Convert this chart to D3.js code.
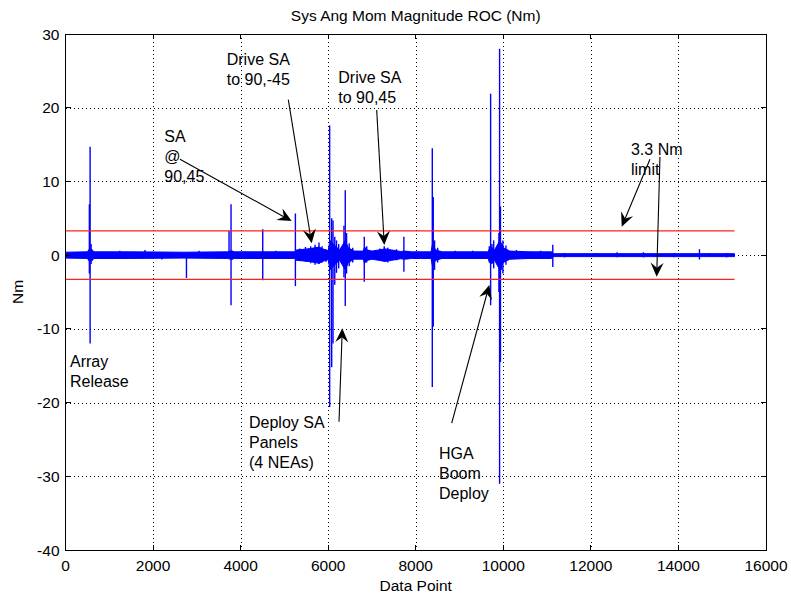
<!DOCTYPE html>
<html>
<head>
<meta charset="utf-8">
<script src="https://cdn.jsdelivr.net/npm/d3@7"></script>
<style>
  body { margin: 0; background: #fff; }
  text { font-family: "Liberation Sans", Arial, sans-serif; fill: #000; }
</style>
</head>
<body>
<div id="chart"></div>
<script>
    // tick values
    var xTicks = [0, 2000, 4000, 6000, 8000, 10000, 12000, 14000, 16000];
    var yTicks = [-40, -30, -20, -10, 0, 10, 20, 30];
    var limitValues = [3.3, -3.3];
    var dataEnd = 15280;

    // spikes: [data point, max, min]
    var spikes = [
        [545, 6.9, -2.5], [562, 14.7, -12.0], [585, 1.5, -1.2],
        [2763, 0.3, -3.1],
        [3735, 3.3, -0.3], [3781, 6.9, -6.8],
        [4505, 3.5, -3.4],
        [5251, 5.65, -4.2],
        [6034, 17.6, -20.6], [6080, 5.0, -15.2], [6110, 4.7, -12.0], [6150, 2.5, -4.0],
        [6360, 4.0, -3.0], [6390, 8.8, -6.9], [6420, 3.0, -2.5],
        [6824, 2.5, -3.6],
        [7729, 2.5, -2.25],
        [8378, 14.5, -17.9], [8400, 7.9, -9.7],
        [9710, 21.9, -6.8], [9740, 1.5, -1.2],
        [9900, 3.0, -5.0], [9915, 28.0, -31.0], [9935, 6.6, -14.5], [9960, 1.5, -2.0],
        [11130, 1.4, -1.6],
        [14480, 0.8, -0.6]
    ];

    // small blips along the baseline and inside the bursts
    var blips = [
        [1240, 0.6, -0.4], [1815, 0.7, -0.3], [2200, 0.4, -0.6], [3050, 0.6, -0.3],
        [4100, 0.5, -0.5], [4800, 0.6, -0.4], [7450, 0.7, -0.5], [8900, 0.6, -0.4],
        [9300, 0.6, -0.5], [10300, 0.7, -0.3], [10600, 0.5, -0.5], [10850, 0.6, -0.4],
        [11400, 0.3, -0.3], [12100, 0.3, -0.2], [12600, 0.4, -0.3], [13200, 0.4, -0.3],
        [13900, 0.3, -0.3], [14700, 0.3, -0.2], [15100, 0.3, -0.3],
        [5350, 0.9, -0.8], [5480, 1.1, -0.9], [5600, 1.2, -1.1], [5700, 1.4, -1.3],
        [5790, 1.7, -1.2], [5860, 1.2, -1.0], [5950, 0.8, -0.9],
        [6190, 2.0, -2.4], [6240, 1.5, -1.8], [6480, 1.6, -1.5], [6560, 1.0, -1.0],
        [6880, 1.2, -1.0], [7180, 0.9, -0.8], [7280, 1.2, -0.9], [7360, 1.0, -1.0],
        [7560, 0.8, -0.7], [8430, 2.0, -2.0], [8500, 1.0, -1.0],
        [9680, 1.2, -1.0], [9780, 2.0, -1.8], [9990, 2.0, -2.5], [10060, 1.3, -1.3]
    ];

    // noise band half-width: [data point, amplitude]
    var noise = [
        [0, 0.4], [500, 0.45], [540, 0.8], [600, 0.8], [650, 0.45], [1500, 0.45],
        [2700, 0.4], [3700, 0.45], [3800, 0.6], [3850, 0.45], [5240, 0.45],
        [5270, 0.7], [5450, 0.8], [5600, 0.9], [5790, 1.1], [5900, 0.8], [6000, 0.6],
        [6040, 2.0], [6150, 1.3], [6260, 0.7], [6390, 2.0], [6460, 1.0], [6600, 0.55],
        [6800, 0.55], [6830, 1.1], [6900, 0.7], [7000, 0.55], [7150, 0.7], [7300, 0.85],
        [7450, 0.7], [7650, 0.5], [7760, 0.55], [7900, 0.45], [8350, 0.45], [8380, 1.4],
        [8460, 0.7], [8600, 0.45], [9650, 0.45], [9710, 1.2], [9800, 0.7], [9920, 2.0],
        [10000, 1.0], [10150, 0.55], [10600, 0.45], [11100, 0.45], [11150, 0.2],
        [15280, 0.2]
    ];

    // annotations: text lines, left/baseline in data coords, arrows from -> to
    var labels = [
        { x: 103, y: -15.2, lines: ["Array", "Release"] },
        { x: 2256, y: 15.35, lines: ["SA", "@", "90,45"] },
        { x: 3682, y: 25.8, lines: ["Drive SA", "to 90,-45"] },
        { x: 6231, y: 23.3, lines: ["Drive SA", "to 90,45"] },
        { x: 12916, y: 13.58, lines: ["3.3 Nm", "limit"] },
        { x: 4191, y: -23.5, lines: ["Deploy SA", "Panels", "(4 NEAs)"] },
        { x: 8531, y: -27.7, lines: ["HGA", "Boom", "Deploy"] }
    ];
    var arrows = [
        [[2615, 13.0], [5166, 4.63]],
        [[5089, 21.1], [5623, 1.6]],
        [[7108, 19.7], [7281, 1.37]],
        [[13350, 13.0], [12704, 3.85]],
        [[13578, 13.35], [13503, -2.93]],
        [[6247, -22.6], [6322, -9.93]],
        [[8821, -22.8], [9680, -4.06]]
    ];

(function () {
    var width = 791;
    var height = 597;
    var mLeft = 65.5, mRight = 766, mTop = 34, mBottom = 550;
    var lineGap = 20;

    var x = d3.scaleLinear().domain([0, 16000]).range([mLeft, mRight]);
    var y = d3.scaleLinear().domain([-40, 30]).range([mBottom, mTop]);

    var svg = d3.select("#chart").append("svg")
        .attr("width", width).attr("height", height);

    // grid
    var grid = svg.append("g")
        .attr("stroke", "#000").attr("stroke-width", 1)
        .attr("stroke-dasharray", "1,3").attr("shape-rendering", "crispEdges");
    grid.selectAll(".gx").data(xTicks.slice(1, -1)).enter().append("line")
        .attr("x1", d => Math.round(x(d)) + 0.5).attr("x2", d => Math.round(x(d)) + 0.5)
        .attr("y1", mTop).attr("y2", mBottom);
    grid.selectAll(".gy").data(yTicks.slice(1, -1)).enter().append("line")
        .attr("x1", mLeft).attr("x2", mRight)
        .attr("y1", d => Math.round(y(d)) + 0.5).attr("y2", d => Math.round(y(d)) + 0.5);

    // noise band
    var band = d3.area()
        .x(d => x(d[0]))
        .y0(d => y(-d[1]))
        .y1(d => y(d[1]));
    svg.append("path").datum(noise)
        .attr("fill", "#0000ff").attr("stroke", "#0000ff").attr("stroke-width", 1)
        .attr("d", band);

    // spikes and blips
    svg.append("g").selectAll("line").data(spikes.concat(blips)).enter().append("line")
        .attr("x1", d => x(d[0])).attr("x2", d => x(d[0]))
        .attr("y1", d => y(d[1])).attr("y2", d => y(d[2]))
        .attr("stroke", "#0000ff").attr("stroke-width", 1.4);

    // limit lines
    svg.append("g").selectAll("line").data(limitValues).enter().append("line")
        .attr("x1", x(0)).attr("x2", x(dataEnd))
        .attr("y1", d => y(d)).attr("y2", d => y(d))
        .attr("stroke", "#ff2020").attr("stroke-width", 1.3);

    // axes box with inward ticks
    var axes = svg.append("g").attr("shape-rendering", "crispEdges");
    axes.append("rect")
        .attr("x", mLeft).attr("y", mTop).attr("width", mRight - mLeft).attr("height", mBottom - mTop)
        .attr("fill", "none").attr("stroke", "#000");
    xTicks.forEach(function (t) {
        axes.append("line").attr("x1", x(t)).attr("x2", x(t)).attr("y1", mBottom).attr("y2", mBottom - 5).attr("stroke", "#000");
        axes.append("line").attr("x1", x(t)).attr("x2", x(t)).attr("y1", mTop).attr("y2", mTop + 5).attr("stroke", "#000");
    });
    yTicks.forEach(function (t) {
        axes.append("line").attr("x1", mLeft).attr("x2", mLeft + 5).attr("y1", y(t)).attr("y2", y(t)).attr("stroke", "#000");
        axes.append("line").attr("x1", mRight).attr("x2", mRight - 5).attr("y1", y(t)).attr("y2", y(t)).attr("stroke", "#000");
    });

    svg.append("g").selectAll("text").data(xTicks).enter().append("text")
        .attr("x", d => x(d)).attr("y", mBottom + 21)
        .attr("text-anchor", "middle").attr("font-size", 15.5)
        .text(d => d);
    svg.append("g").selectAll("text").data(yTicks).enter().append("text")
        .attr("x", mLeft - 6).attr("y", d => y(d) + 5.5)
        .attr("text-anchor", "end").attr("font-size", 15.5)
        .text(d => d);

    // titles
    svg.append("text").attr("x", (mLeft + mRight) / 2).attr("y", 21)
        .attr("text-anchor", "middle").attr("font-size", 15.5)
        .text("Sys Ang Mom Magnitude ROC (Nm)");
    svg.append("text").attr("x", (mLeft + mRight) / 2).attr("y", 591)
        .attr("text-anchor", "middle").attr("font-size", 15.5)
        .text("Data Point");
    svg.append("text")
        .attr("transform", "translate(23," + ((mTop + mBottom) / 2) + ") rotate(-90)")
        .attr("text-anchor", "middle").attr("font-size", 15.5)
        .text("Nm");

    // annotation text
    labels.forEach(function (l) {
        var t = svg.append("text").attr("font-size", 16);
        l.lines.forEach(function (s, i) {
            t.append("tspan").attr("x", x(l.x)).attr("y", y(l.y) + i * lineGap).text(s);
        });
    });

    // arrows
    var head = "M0,0 L-14,-6.5 L-9,0 L-14,6.5 Z";
    arrows.forEach(function (a) {
        var x1 = x(a[0][0]), y1 = y(a[0][1]), x2 = x(a[1][0]), y2 = y(a[1][1]);
        var ang = Math.atan2(y2 - y1, x2 - x1);
        svg.append("line")
            .attr("x1", x1).attr("y1", y1)
            .attr("x2", x2 - 9 * Math.cos(ang)).attr("y2", y2 - 9 * Math.sin(ang))
            .attr("stroke", "#000").attr("stroke-width", 1.1);
        svg.append("path").attr("d", head)
            .attr("transform", "translate(" + x2 + "," + y2 + ") rotate(" + (ang * 180 / Math.PI) + ")")
            .attr("fill", "#000");
    });
})();
</script>
</body>
</html>
